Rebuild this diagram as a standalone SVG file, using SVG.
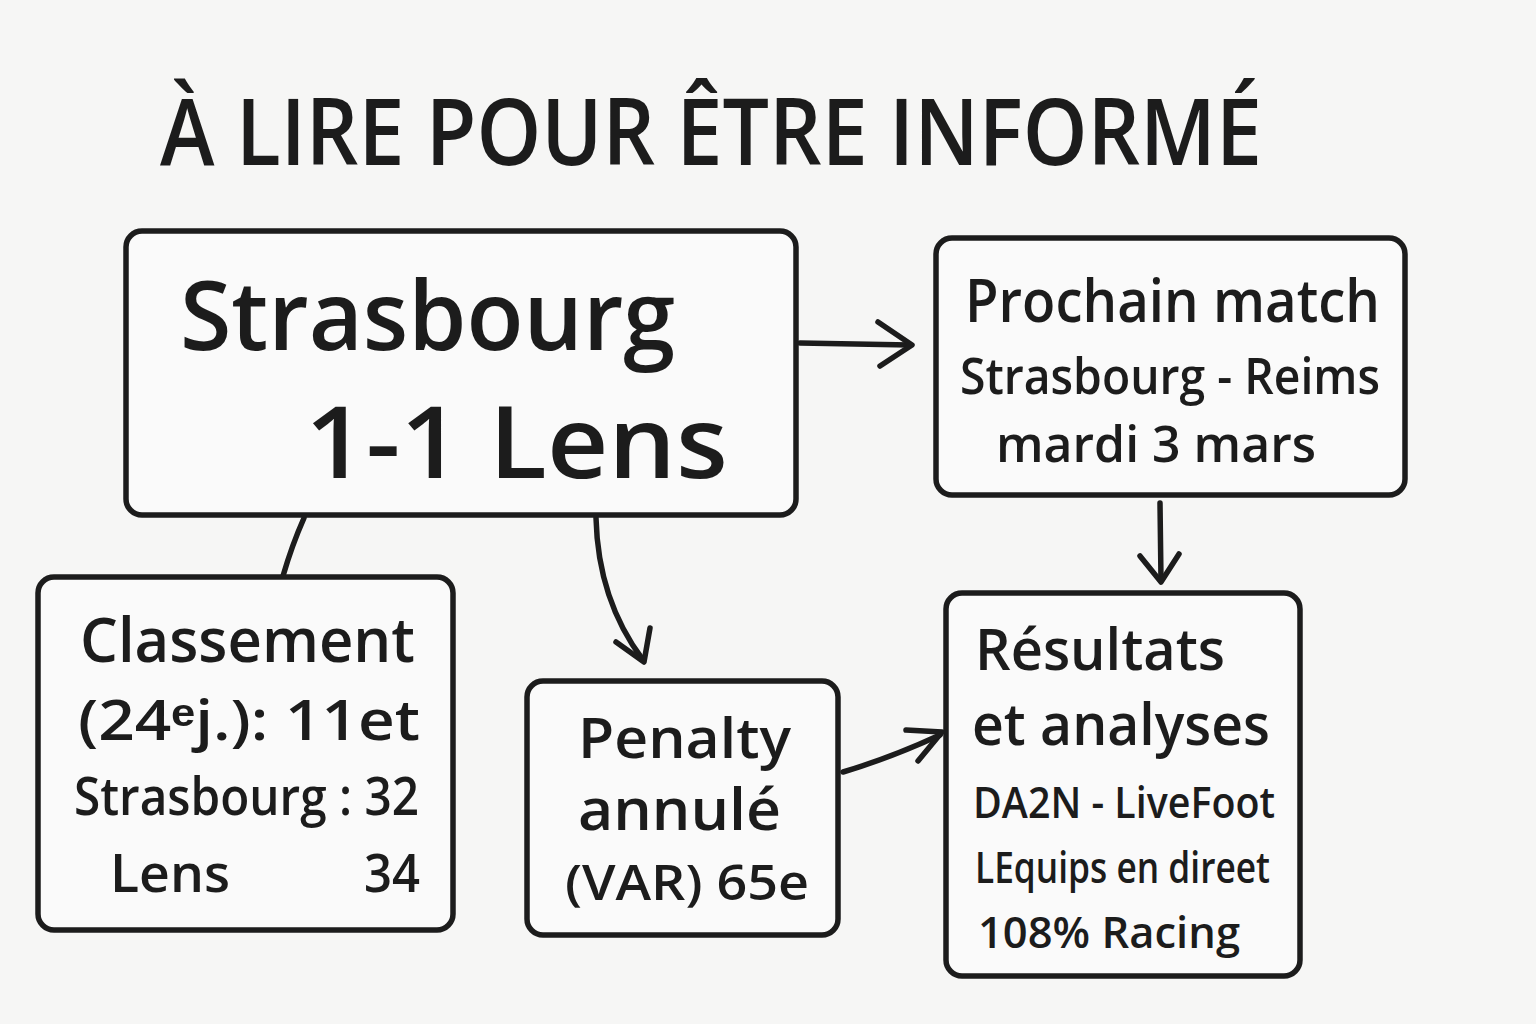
<svg xmlns="http://www.w3.org/2000/svg" width="1536" height="1024" viewBox="0 0 1536 1024">
<style>
.box{fill:#fafafa;stroke:#1c1c1c;stroke-width:5.5}
.t{font-family:"Open Sans","Liberation Sans",sans-serif;fill:#1c1c1c;font-weight:600}
.c{fill:none;stroke:#1c1c1c;stroke-width:5.5;stroke-linecap:round;stroke-linejoin:round}
</style>
<rect width="1536" height="1024" fill="#f6f6f5"/>
<text class="t" x="160" y="165" font-size="92" textLength="1102" lengthAdjust="spacingAndGlyphs">À LIRE POUR ÊTRE INFORMÉ</text>

<g id="connectors">
  <path class="c" d="M800 343 L910 345"/>
  <path class="c" d="M878 322 L912 345 L880 366"/>
  <path class="c" d="M304 518 Q292 545 283 576"/>
  <path class="c" d="M596 518 Q598 600 643 660"/>
  <path class="c" d="M616 642 L644 662 L650 628"/>
  <path class="c" d="M843 772 Q890 758 940 735"/>
  <path class="c" d="M906 730 L942 732 L918 761"/>
  <path class="c" d="M1160 503 L1161 580"/>
  <path class="c" d="M1140 556 L1161 582 L1179 554"/>
</g>

<g id="node-score">
  <rect class="box" x="126" y="231" width="670" height="284" rx="16"/>
  <text class="t" x="180" y="350" font-size="96" textLength="495" lengthAdjust="spacingAndGlyphs">Strasbourg</text>
  <text class="t" x="305" y="478" font-size="100" textLength="423" lengthAdjust="spacingAndGlyphs">1-1 Lens</text>
</g>

<g id="node-prochain">
  <rect class="box" x="936" y="238" width="469" height="257" rx="16"/>
  <text class="t" x="965" y="322" font-size="60" textLength="415" lengthAdjust="spacingAndGlyphs">Prochain match</text>
  <text class="t" x="960" y="394" font-size="50" textLength="420" lengthAdjust="spacingAndGlyphs">Strasbourg - Reims</text>
  <text class="t" x="996" y="462" font-size="50" textLength="320" lengthAdjust="spacingAndGlyphs">mardi 3 mars</text>
</g>

<g id="node-classement">
  <rect class="box" x="38" y="577" width="415" height="353" rx="16"/>
  <text class="t" x="80" y="662" font-size="62" textLength="335" lengthAdjust="spacingAndGlyphs">Classement</text>
  <text class="t" x="78" y="740" font-size="56" textLength="342" lengthAdjust="spacingAndGlyphs">(24ᵉj.): 11et</text>
  <text class="t" x="74" y="815" font-size="52" textLength="345" lengthAdjust="spacingAndGlyphs">Strasbourg : 32</text>
  <text class="t" x="110" y="892" font-size="52" textLength="120" lengthAdjust="spacingAndGlyphs">Lens</text>
  <text class="t" x="364" y="892" font-size="52" textLength="56" lengthAdjust="spacingAndGlyphs">34</text>
</g>

<g id="node-penalty">
  <rect class="box" x="527" y="681" width="311" height="254" rx="16"/>
  <text class="t" x="578" y="758" font-size="56" textLength="213" lengthAdjust="spacingAndGlyphs">Penalty</text>
  <text class="t" x="578" y="830" font-size="58" textLength="203" lengthAdjust="spacingAndGlyphs">annulé</text>
  <text class="t" x="565" y="900" font-size="48" textLength="244" lengthAdjust="spacingAndGlyphs">(VAR) 65e</text>
</g>

<g id="node-resultats">
  <rect class="box" x="946" y="593" width="354" height="383" rx="16"/>
  <text class="t" x="975" y="670" font-size="58" textLength="250" lengthAdjust="spacingAndGlyphs">Résultats</text>
  <text class="t" x="972" y="745" font-size="58" textLength="298" lengthAdjust="spacingAndGlyphs">et analyses</text>
  <text class="t" x="973" y="818" font-size="44" textLength="302" lengthAdjust="spacingAndGlyphs">DA2N - LiveFoot</text>
  <text class="t" x="975" y="883" font-size="44" textLength="295" lengthAdjust="spacingAndGlyphs">LEquips en direet</text>
  <text class="t" x="978" y="948" font-size="44" textLength="262" lengthAdjust="spacingAndGlyphs">108% Racing</text>
</g>
</svg>
